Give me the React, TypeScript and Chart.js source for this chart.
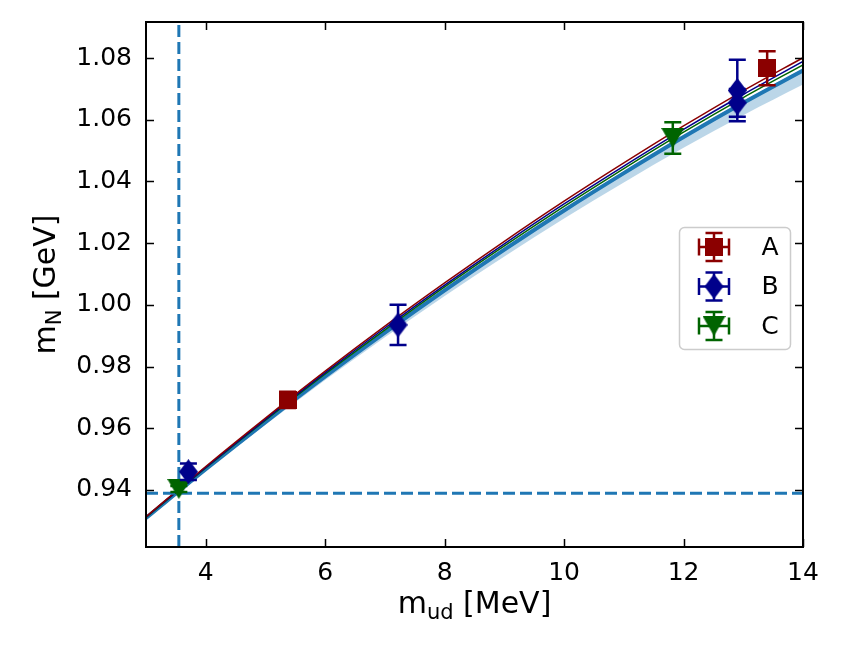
import React, { useEffect, useRef } from 'react';
import { Chart, registerables } from 'chart.js';

Chart.register(...registerables);

// ---------- data ----------
const seriesLabels = ['A', 'B', 'C'];
const seriesColors = ['#8b0000', '#00008b', '#006400'];

const aX = [5.37, 13.4];
const aY = [0.9692, 1.0767];
const aErr = [0.0026, 0.0055];

const bX = [3.71, 7.22, 12.9, 12.9];
const bY = [0.9459, 0.9935, 1.0695, 1.0655];
const bErr = [0.0027, 0.0065, 0.01, 0.0045];

const cX = [3.55, 11.82];
const cY = [0.9403, 1.0541];
const cErr = [0.001, 0.0051];

const fitX = [3, 4, 5, 6, 7, 8, 9, 10, 11, 12, 13, 14];
const fitA = [0.9313, 0.9476, 0.9633, 0.9785, 0.9931, 1.0071, 1.0206, 1.0336, 1.046, 1.058, 1.0694, 1.0801];
const fitB = [0.9312, 0.9473, 0.9629, 0.978, 0.9925, 1.0064, 1.0198, 1.0327, 1.045, 1.0569, 1.0682, 1.0789];
const fitC = [0.9311, 0.9471, 0.9626, 0.9776, 0.9919, 1.0058, 1.0191, 1.0319, 1.0442, 1.056, 1.0672, 1.0778];
const fitCont = [0.9309, 0.9467, 0.962, 0.9768, 0.991, 1.0047, 1.0179, 1.0306, 1.0427, 1.0544, 1.0655, 1.076];
const bandHi = [0.9314, 0.9473, 0.9626, 0.9774, 0.9916, 1.0053, 1.0185, 1.0312, 1.0433, 1.055, 1.0661, 1.0766];
const bandLo = [0.9305, 0.9461, 0.9611, 0.9756, 0.9895, 1.0029, 1.0157, 1.028, 1.0397, 1.0509, 1.0615, 1.0714];

const physMud = 3.55;
const physMN = 0.9389;

const xMin = 3;
const xMax = 14;
const yMin = 0.9215;
const yMax = 1.0917;
const xTicks = [4, 6, 8, 10, 12, 14];
const yTicks = [0.94, 0.96, 0.98, 1.0, 1.02, 1.04, 1.06, 1.08];

// ---------- helpers ----------
const FONT = "'DejaVu Sans', sans-serif";
const BAND = 'rgba(31,119,180,0.3)';
const TAB_BLUE = '#1f77b4';

function makeMarker(shape: string, color: string): HTMLCanvasElement {
  const c = document.createElement('canvas');
  let w = 18, h = 18;
  if (shape === 'diamond') { w = 19; h = 25; }
  if (shape === 'tri') { w = 23; h = 20; }
  c.width = w; c.height = h;
  const ctx = c.getContext('2d')!;
  ctx.fillStyle = color;
  ctx.beginPath();
  if (shape === 'square') {
    ctx.rect(0, 0, w, h);
  } else if (shape === 'diamond') {
    ctx.moveTo(w / 2, 0); ctx.lineTo(w, h / 2); ctx.lineTo(w / 2, h); ctx.lineTo(0, h / 2); ctx.closePath();
  } else {
    ctx.moveTo(0, 0); ctx.lineTo(w, 0); ctx.lineTo(w / 2, h); ctx.closePath();
  }
  ctx.fill();
  return c;
}

const pts = (xs: number[], ys: number[]) => xs.map((x, i) => ({ x, y: ys[i] }));

export default function App() {
  const ref = useRef<HTMLCanvasElement | null>(null);

  useEffect(() => {
    const canvas = ref.current;
    if (!canvas) return;
    const markers = [
      makeMarker('square', seriesColors[0]),
      makeMarker('diamond', seriesColors[1]),
      makeMarker('tri', seriesColors[2]),
    ];
    const errs = [aErr, bErr, cErr];

    const errorBars = {
      id: 'errorBars',
      beforeDatasetDraw(chart: any, args: any) {
        const ds = chart.data.datasets[args.index];
        if (ds._errIdx === undefined) return;
        const e = errs[ds._errIdx];
        const { ctx, scales } = chart;
        ctx.save();
        ctx.strokeStyle = ds.borderColor;
        ctx.lineWidth = 2.5;
        ds.data.forEach((p: any, i: number) => {
          const px = scales.x.getPixelForValue(p.x);
          const y1 = scales.y.getPixelForValue(p.y + e[i]);
          const y2 = scales.y.getPixelForValue(p.y - e[i]);
          ctx.beginPath();
          ctx.moveTo(px, y1); ctx.lineTo(px, y2);
          ctx.moveTo(px - 8.5, y1); ctx.lineTo(px + 8.5, y1);
          ctx.moveTo(px - 8.5, y2); ctx.lineTo(px + 8.5, y2);
          ctx.stroke();
        });
        ctx.restore();
      },
    };

    const frame = {
      id: 'frame',
      afterDraw(chart: any) {
        const { ctx, chartArea: a, scales } = chart;
        ctx.save();
        ctx.strokeStyle = '#000';
        ctx.lineWidth = 1.5;
        const tl = 8;
        ctx.beginPath();
        scales.x.ticks.forEach((t: any) => {
          const px = Math.round(scales.x.getPixelForValue(t.value)) + 0.5;
          ctx.moveTo(px, a.bottom); ctx.lineTo(px, a.bottom - tl);
          ctx.moveTo(px, a.top); ctx.lineTo(px, a.top + tl);
        });
        scales.y.ticks.forEach((t: any) => {
          const py = Math.round(scales.y.getPixelForValue(t.value)) + 0.5;
          ctx.moveTo(a.left, py); ctx.lineTo(a.left + tl, py);
          ctx.moveTo(a.right, py); ctx.lineTo(a.right - tl, py);
        });
        ctx.stroke();
        ctx.lineWidth = 2;
        ctx.strokeRect(a.left, a.top, a.right - a.left, a.bottom - a.top);

        // axis titles
        ctx.fillStyle = '#000';
        const drawLabel = (main: string, sub: string, rest: string) => {
          const size = 30;
          ctx.font = `${size}px ${FONT}`;
          const w1 = ctx.measureText(main).width;
          const w3 = ctx.measureText(rest).width;
          ctx.font = `${size * 0.7}px ${FONT}`;
          const w2 = ctx.measureText(sub).width;
          const total = w1 + w2 + w3;
          let x = -total / 2;
          ctx.textBaseline = 'alphabetic';
          ctx.textAlign = 'left';
          ctx.font = `${size}px ${FONT}`;
          ctx.fillText(main, x, 0);
          x += w1;
          ctx.font = `${size * 0.7}px ${FONT}`;
          ctx.fillText(sub, x, size * 0.2);
          x += w2;
          ctx.font = `${size}px ${FONT}`;
          ctx.fillText(rest, x, 0);
        };
        ctx.save();
        ctx.translate((a.left + a.right) / 2, 613);
        drawLabel('m', 'ud', ' [MeV]');
        ctx.restore();
        ctx.save();
        ctx.translate(55, (a.top + a.bottom) / 2);
        ctx.rotate(-Math.PI / 2);
        drawLabel('m', 'N', ' [GeV]');
        ctx.restore();

        // legend
        const lx = a.right - 124, ly = a.top + 205, lw = 111, lh = 122;
        ctx.beginPath();
        ctx.roundRect(lx + 0.5, ly + 0.5, lw, lh, 5);
        ctx.fillStyle = 'rgba(255,255,255,0.8)';
        ctx.fill();
        ctx.strokeStyle = '#cccccc';
        ctx.lineWidth = 1.5;
        ctx.stroke();
        seriesLabels.forEach((lab, i) => {
          const cx = lx + 35, cy = ly + 20 + i * 39.5;
          ctx.strokeStyle = seriesColors[i];
          ctx.lineWidth = 2.5;
          ctx.beginPath();
          ctx.moveTo(cx, cy - 14); ctx.lineTo(cx, cy + 14);
          ctx.moveTo(cx - 15, cy); ctx.lineTo(cx + 15, cy);
          ctx.moveTo(cx - 8.5, cy - 14); ctx.lineTo(cx + 8.5, cy - 14);
          ctx.moveTo(cx - 8.5, cy + 14); ctx.lineTo(cx + 8.5, cy + 14);
          ctx.moveTo(cx - 15, cy - 8.5); ctx.lineTo(cx - 15, cy + 8.5);
          ctx.moveTo(cx + 15, cy - 8.5); ctx.lineTo(cx + 15, cy + 8.5);
          ctx.stroke();
          const m = markers[i];
          ctx.drawImage(m, cx - m.width / 2, cy - m.height / 2);
          ctx.fillStyle = '#000';
          ctx.font = `25px ${FONT}`;
          ctx.textAlign = 'center';
          ctx.textBaseline = 'middle';
          ctx.fillText(lab, lx + 91, cy + 1);
        });
        ctx.restore();
      },
    };

    const lineDs = (data: any, color: string, width: number, order: number, extra: any = {}) => ({
      data,
      borderColor: color,
      backgroundColor: color,
      borderWidth: width,
      pointRadius: 0,
      showLine: true,
      fill: false,
      cubicInterpolationMode: 'monotone',
      clip: 0,
      order,
      ...extra,
    });

    const scatterDs = (xs: number[], ys: number[], i: number) => ({
      data: pts(xs, ys),
      borderColor: seriesColors[i],
      backgroundColor: seriesColors[i],
      showLine: false,
      pointStyle: markers[i],
      pointRadius: 9,
      order: 1,
      _errIdx: i,
    });

    const chart = new Chart(canvas, {
      type: 'line',
      data: {
        datasets: [
          scatterDs(aX, aY, 0),
          scatterDs(bX, bY, 1),
          scatterDs(cX, cY, 2),
          lineDs(pts([xMin, xMax], [physMN, physMN]), TAB_BLUE, 3, 2, { borderDash: [12, 5], cubicInterpolationMode: 'default' }),
          lineDs(pts([physMud, physMud], [yMin, yMax]), TAB_BLUE, 3, 2, { borderDash: [12, 5], cubicInterpolationMode: 'default' }),
          lineDs(pts(fitX, fitA), seriesColors[0], 1.5, 3),
          lineDs(pts(fitX, fitB), seriesColors[1], 1.5, 3),
          lineDs(pts(fitX, fitC), seriesColors[2], 1.5, 3),
          lineDs(pts(fitX, fitCont), TAB_BLUE, 4, 4),
          lineDs(pts(fitX, bandHi), 'rgba(0,0,0,0)', 0, 5, { fill: '+1', backgroundColor: BAND }),
          lineDs(pts(fitX, bandLo), 'rgba(0,0,0,0)', 0, 5),
        ] as any,
      },
      plugins: [errorBars, frame],
      options: {
        responsive: false,
        animation: false,
        devicePixelRatio: 1,
        parsing: false as any,
        normalized: true,
        layout: { padding: { left: 0, top: 22, right: 44, bottom: 0 } },
        plugins: { legend: { display: false }, tooltip: { enabled: false } },
        scales: {
          x: {
            type: 'linear',
            min: xMin,
            max: xMax,
            afterBuildTicks: (s: any) => { s.ticks = xTicks.map((v) => ({ value: v })); },
            afterFit: (s: any) => { s.height = 112; },
            grid: { display: false },
            border: { display: false },
            ticks: {
              font: { family: FONT, size: 25 },
              color: '#000',
              padding: 3,
              maxRotation: 0,
              autoSkip: false,
              callback: (v: any) => String(v),
            },
          },
          y: {
            type: 'linear',
            min: yMin,
            max: yMax,
            afterBuildTicks: (s: any) => { s.ticks = yTicks.map((v) => ({ value: v })); },
            afterFit: (s: any) => { s.width = 146; },
            grid: { display: false },
            border: { display: false },
            ticks: {
              font: { family: FONT, size: 25 },
              color: '#000',
              padding: 6,
              autoSkip: false,
              callback: (v: any) => Number(v).toFixed(2),
            },
          },
        },
      } as any,
    });
    return () => chart.destroy();
  }, []);

  return (
    <div style={{ position: 'fixed', left: 0, top: 0, width: 847, height: 659, background: '#fff' }}>
      <canvas ref={ref} width={847} height={659} style={{ width: 847, height: 659, display: 'block' }} />
    </div>
  );
}
